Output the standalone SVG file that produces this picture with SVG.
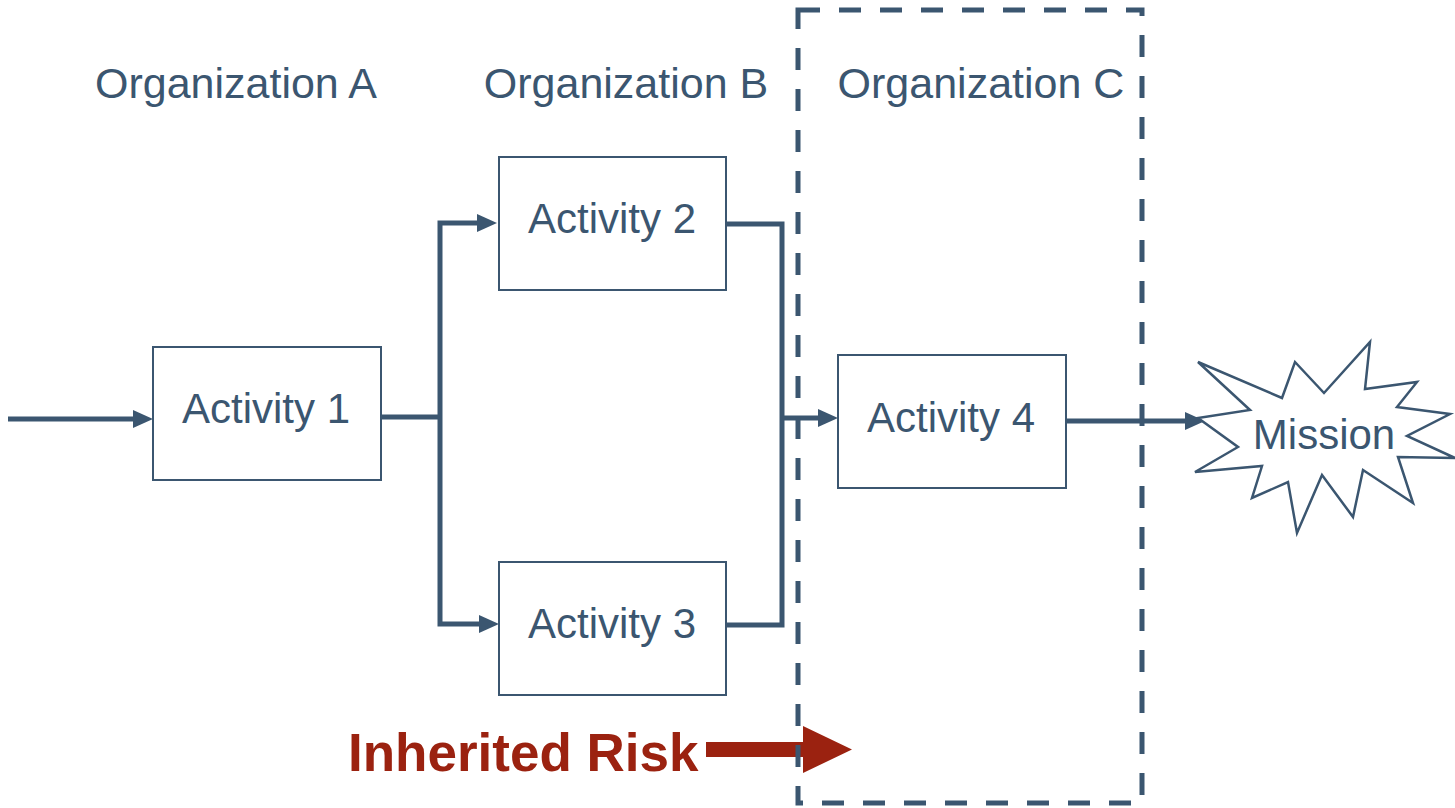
<svg xmlns="http://www.w3.org/2000/svg" width="1455" height="808" viewBox="0 0 1455 808">
<style>
.lbl{font-family:"Liberation Sans",Arial,sans-serif;fill:#3B5670;text-anchor:middle}
.box{fill:#fff;stroke:#3B5670;stroke-width:2}
.con{fill:none;stroke:#3B5670;stroke-width:5;stroke-linejoin:miter}
</style>
<defs>
<marker id="ah" viewBox="0 0 20 18" markerWidth="20" markerHeight="18" refX="10" refY="9" markerUnits="userSpaceOnUse" orient="auto">
<path d="M0,0 L20,9 L0,18 z" fill="#3B5670"/>
</marker>
</defs>
<rect width="1455" height="808" fill="#fff"/>
<g id="org-labels">
<text class="lbl" x="236" y="98" font-size="43">Organization A</text>
<text class="lbl" x="626" y="98" font-size="43">Organization B</text>
<text class="lbl" x="981" y="98" font-size="43">Organization C</text>
</g>
<g id="inherited-risk">
<text x="348" y="771" font-family="'Liberation Sans',Arial,sans-serif" font-weight="bold" font-size="53" fill="#9B2210">Inherited Risk</text>
<path d="M706,742 H803 V726 L852,749.5 L803,773 V757 H706 z" fill="#9B2210"/>
</g>
<g id="connectors">
<path class="con" d="M8,419 H143" marker-end="url(#ah)"/>
<path class="con" d="M381,417 H440"/>
<path class="con" d="M440,417 V223 H487" marker-end="url(#ah)"/>
<path class="con" d="M440,417 V624 H489" marker-end="url(#ah)"/>
<path class="con" d="M726,224 H782 V418"/>
<path class="con" d="M725,625 H782 V418"/>
<path class="con" d="M782,418 H828" marker-end="url(#ah)"/>
<path class="con" d="M1066,421 H1195" marker-end="url(#ah)"/>
</g>
<g id="org-c-boundary">
<rect x="798" y="10" width="344" height="793" fill="none" stroke="#3B5670" stroke-width="5" stroke-dasharray="22 19"/>
</g>
<g id="activity1">
<rect class="box" x="153" y="347" width="228" height="133"/>
<text class="lbl" x="266" y="423" font-size="42">Activity 1</text>
</g>
<g id="activity2">
<rect class="box" x="499" y="157" width="227" height="133"/>
<text class="lbl" x="612" y="233" font-size="42">Activity 2</text>
</g>
<g id="activity3">
<rect class="box" x="499" y="562" width="227" height="133"/>
<text class="lbl" x="612" y="638" font-size="42">Activity 3</text>
</g>
<g id="activity4">
<rect class="box" x="838" y="355" width="228" height="133"/>
<text class="lbl" x="951" y="432" font-size="42">Activity 4</text>
</g>
<g id="mission">
<polygon points="1198,362 1282,398 1295,362 1324,393 1370,342 1365,389 1417,382 1397,407 1450,414 1407,436 1455,458 1398,457 1413,503 1363,470 1353,517 1322,475 1297,533 1288,482 1252,498 1262,466 1195,472 1238,447 1198,418 1250,410" fill="#fff" stroke="#3B5670" stroke-width="2.5" stroke-linejoin="miter"/>
<text class="lbl" x="1324" y="449" font-size="42">Mission</text>
</g>
</svg>
